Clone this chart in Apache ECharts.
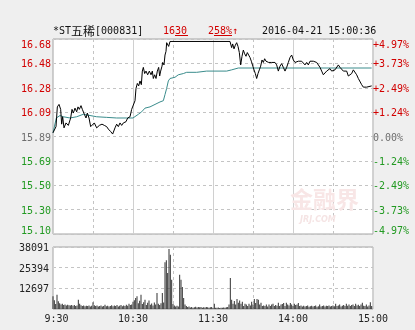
<!DOCTYPE html>
<html><head><meta charset="utf-8">
<script src="https://cdn.jsdelivr.net/npm/echarts@6/dist/echarts.min.js"></script>
<style>html,body{margin:0;padding:0;background:#efefef}#c{width:415px;height:330px}</style>
</head><body><div id="c"></div>
<script>
// ---- data ----
const priceMin = 15.10, priceMax = 16.68;
const priceTickLabels = ['16.68','16.48','16.28','16.09','15.89','15.69','15.50','15.30','15.10'];
const pctTickLabels = ['+4.97%','+3.73%','+2.49%','+1.24%','0.00%','-1.24%','-2.49%','-3.73%','-4.97%'];
const volTickLabels = ['', '12697', '25394', '38091'];
const volMax = 38091, volStep = 12697;
const timeLabels = ['9:30','','10:30','','11:30','','14:00','','15:00'];

const priceMinutes = [0,2.25,3.25,4.5,5.75,6.5,7.25,8.25,9.75,11.5,13.25,14.25,15.25,16.5,17.75,18.75,19.75,21,22,23.5,24.75,25.75,27,28.25,29.75,31,32.75,34.75,36.75,38.5,40.25,41.5,43.25,44.75,46.5,47.75,49,50.25,51.5,52.75,54.75,56,57.75,59,60.25,
61.5,62.25,63.25,64.25,65.25,66.25,67,67.75,68.75,69.75,71,72.25,73.5,74.5,75.25,76.25,77.25,78.25,79.25,80,80.75,81.75,82.25,83.25,84,84.75,85.25,86,86.75,87.75,96,96.5,97,120,132.75,
133.25,134,134.75,135.75,136.75,137.75,138.75,139.75,140.75,141.75,142.75,143.75,144.75,145.75,146.75,147.75,148.75,149.75,150.75,151.75,152.75,153.75,154.75,155.75,156.75,157.75,158.75,159.75,160.75,161.75,162.75,164,165.25,166.5,167.75,169,170.25,171.5,172.75,174,175.25,176.5,177.75,179,180.25,
181.5,182.75,184,185.25,186.5,187.75,189,190.25,191.5,192.75,194,195.25,196.5,197.75,199,200.25,201.5,202.75,204.25,205.25,206.5,207.75,209,210.25,211.5,212.75,214,215.25,216.5,217.75,219,220.25,221.5,222.75,224,225.25,226.5,227.75,229,230.25,231.5,232.75,234,235.25,239];
const priceValues = [15.92,15.97,16.13,16.15,16.11,15.99,16.05,15.96,16.00,15.98,16.04,16.11,16.08,16.12,16.09,16.13,16.11,16.14,16.11,16.07,16.04,16.08,16.04,15.97,15.96,16.00,15.96,15.98,15.99,15.98,15.97,15.95,15.93,15.91,15.96,15.99,15.97,16.00,15.98,16.00,16.01,16.04,16.05,16.11,16.12,
16.18,16.28,16.32,16.30,16.34,16.31,16.42,16.45,16.40,16.42,16.39,16.42,16.39,16.42,16.36,16.39,16.36,16.42,16.45,16.38,16.42,16.46,16.49,16.47,16.55,16.58,16.65,16.66,16.62,16.66,16.66,16.65,16.66,16.66,16.66,
16.65,16.61,16.64,16.60,16.63,16.65,16.62,16.57,16.47,16.54,16.59,16.56,16.54,16.57,16.55,16.53,16.50,16.51,16.43,16.40,16.36,16.40,16.43,16.46,16.51,16.49,16.52,16.50,16.50,16.49,16.50,16.49,16.50,16.49,16.47,16.42,16.46,16.48,16.45,16.42,16.45,16.49,16.53,16.55,16.51,
16.49,16.50,16.50,16.49,16.50,16.49,16.47,16.49,16.47,16.50,16.51,16.50,16.49,16.49,16.48,16.45,16.42,16.39,16.38,16.42,16.42,16.44,16.42,16.42,16.43,16.44,16.47,16.45,16.46,16.42,16.43,16.42,16.38,16.37,16.40,16.43,16.42,16.39,16.36,16.35,16.31,16.29,16.28,16.29,16.30];

const avgMinutes = [0,2.5,3.25,5.25,7.75,12.75,17.75,22.75,27.75,32.75,40.25,47.75,55.25,60,64,66.5,69,72.75,76.5,80.25,82.75,84,85.25,86.5,87.75,91.5,94,97.75,100.25,107.75,115.25,121.5,130.25,134,139,239];
const avgValues = [15.92,16.04,16.04,16.06,16.05,16.04,16.05,16.07,16.06,16.05,16.045,16.04,16.04,16.04,16.07,16.09,16.12,16.13,16.15,16.17,16.18,16.23,16.28,16.34,16.36,16.37,16.39,16.40,16.41,16.41,16.42,16.42,16.42,16.43,16.445,16.445];

const volumes = [
7800,5300,3000,8800,4700,3500,2700,3300,2500,2700,
2200,2600,2300,2100,2500,2000,2400,1900,2200,5700,
3200,2300,1800,2100,1700,2000,1800,2200,1600,2000,
4100,2300,1800,2100,1600,1900,2200,1500,1800,2600,
1700,2000,1500,1900,2300,1700,2100,1800,2400,1600,
2000,2500,1700,2200,1900,2600,2000,3200,2400,2800,
4500,5300,6750,7800,3500,5000,8800,3000,4200,5700,
2500,3800,5200,2600,3400,2200,4000,2800,9800,3200,
2500,3600,9800,4000,28650,29900,22100,36800,33400,18000,
3000,2200,1600,2000,1500,21100,18000,13500,6700,2800,
1800,1200,1500,900,1300,800,1100,1400,900,1200,
1000,1300,800,1100,900,1200,1000,800,1100,1300,
600,3300,800,700,900,600,800,700,900,800,
1000,1200,2700,19000,5700,3300,4900,2700,6100,3900,
5200,3300,4500,1800,3300,2700,1800,3300,2200,4500,
2700,6100,3700,6100,5700,2700,3900,1800,2200,1800,
2700,1600,2700,1800,2700,3300,1800,2400,2000,3900,
1800,2700,3000,3700,1800,3900,2700,2200,3700,2700,
1800,3300,2400,2700,3700,1800,2200,1600,2000,1500,
1800,2200,1400,1700,2000,1500,1800,2100,1400,1700,
2700,1500,1900,2200,1600,2000,1800,2100,1500,1900,
2200,1700,3300,1800,2200,2700,1600,2000,2500,1800,
3300,2000,2700,1800,2400,2700,1900,3300,2200,2600,
1900,2700,3900,2000,1800,2700,1500,2200,4100,1800];

// ---- styles ----
const RED = '#d20000', GREEN = '#229a22', GRAY = '#6e6e6e';
const FONT = '"DejaVu Sans Mono", "Liberation Mono", monospace';
const GRIDC = '#c4c4c4', SOLIDC = '#d0d0d0';

const priceData = priceMinutes.map((m, i) => [m, priceValues[i]]);
const avgData = avgMinutes.map((m, i) => [m, avgValues[i]]);
const volData = volumes.map((v, i) => [i, v]);

function stepRich(idx, txt) {
  const c = idx < 4 ? 'r' : (idx > 4 ? 'g' : 'z');
  const pos = idx === 0 ? 't' : (idx === 8 ? 'b' : 'n');
  return '{' + c + pos + '|' + txt + '}';
}
const rich = {};
[['r', RED], ['g', GREEN], ['z', GRAY]].forEach(([k, col]) => {
  rich[k + 't'] = {color: col, fontFamily: FONT, fontSize: 10, padding: [12, 0, 0, 0]};
  rich[k + 'b'] = {color: col, fontFamily: FONT, fontSize: 10, padding: [0, 0, 6, 0]};
  rich[k + 'n'] = {color: col, fontFamily: FONT, fontSize: 10, padding: [3, 0, 0, 0]};
});

const hideAxis = {axisLine: {show: false}, axisTick: {show: false}, axisLabel: {show: false}};

const option = {
  animation: false,
  backgroundColor: '#efefef',
  grid: [
    {left: 53, top: 39, width: 320, height: 195, show: true, backgroundColor: '#fff', borderColor: '#a4a4a4', borderWidth: 1},
    {left: 53, top: 247, width: 320, height: 62, show: true, backgroundColor: '#fff', borderColor: '#a4a4a4', borderWidth: 1}
  ],
  xAxis: [
    Object.assign({type: 'value', gridIndex: 0, min: 0, max: 240, interval: 30,
      splitLine: {show: true, lineStyle: {color: GRIDC, type: [3, 3]}}}, hideAxis),
    Object.assign({type: 'value', gridIndex: 0, min: 0, max: 240, interval: 60,
      splitLine: {show: true, lineStyle: {color: SOLIDC, type: 'solid'}}}, hideAxis),
    {type: 'value', gridIndex: 1, min: 0, max: 240, interval: 30,
      axisLine: {show: false}, axisTick: {show: false},
      splitLine: {show: true, lineStyle: {color: GRIDC, type: [3, 3]}},
      axisLabel: {margin: 5, color: '#222', fontFamily: FONT, fontSize: 10,
        formatter: v => { const t = timeLabels[Math.round(v / 30)] || ''; return t === '9:30' ? '{p|' + t + '}' : t; },
        rich: {p: {fontFamily: FONT, fontSize: 10, color: '#222', padding: [0, 0, 0, 7]}}}},
    Object.assign({type: 'value', gridIndex: 1, min: 0, max: 240, interval: 60,
      splitLine: {show: true, lineStyle: {color: SOLIDC, type: 'solid'}}}, hideAxis)
  ],
  yAxis: [
    Object.assign({type: 'value', gridIndex: 0, min: priceMin, max: priceMax, splitLine: {show: false}}, hideAxis),
    {type: 'value', gridIndex: 0, position: 'left', min: -4, max: 4, interval: 1,
      axisLine: {show: false}, axisTick: {show: false},
      splitLine: {show: true, lineStyle: {color: GRIDC, type: [3, 3]}},
      axisLabel: {margin: 2, formatter: v => { const i = 4 - Math.round(v); return stepRich(i, priceTickLabels[i]); }, rich: rich}},
    {type: 'value', gridIndex: 0, position: 'right', min: -4, max: 4, interval: 1,
      axisLine: {show: false}, axisTick: {show: false}, splitLine: {show: false},
      axisLabel: {margin: 0, formatter: v => { const i = 4 - Math.round(v); return stepRich(i, pctTickLabels[i]); }, rich: rich}},
    {type: 'value', gridIndex: 1, min: 0, max: volMax, interval: volStep,
      axisLine: {show: false}, axisTick: {show: false},
      splitLine: {show: true, lineStyle: {color: GRIDC, type: [3, 3]}},
      axisLabel: {margin: 4, formatter: v => { const t = volTickLabels[Math.round(v / volStep)] || ''; return t ? '{v|' + t + '}' : ''; },
        rich: {v: {fontFamily: FONT, fontSize: 10, color: '#222', padding: [3, 0, 0, 0]}}}}
  ],
  series: [
    {type: 'line', xAxisIndex: 0, yAxisIndex: 0, data: avgData, symbol: 'none',
      lineStyle: {color: '#3a8c8c', width: 1}, z: 3},
    {type: 'line', xAxisIndex: 0, yAxisIndex: 0, data: priceData, symbol: 'none',
      lineStyle: {color: '#000', width: 1}, z: 4},
    {type: 'bar', xAxisIndex: 2, yAxisIndex: 3, data: volData, barWidth: 1,
      itemStyle: {color: '#333'}, z: 3}
  ],
  graphic: [
    {type: 'text', left: 290, top: 188, z: 1, style: {text: '金融界', fontFamily: '"Noto Sans CJK SC"', fontWeight: 'bold', fontSize: 23, fill: '#f8e6e6'}},
    {type: 'text', left: 300, top: 216, z: 1, style: {text: 'JRJ.COM', fontFamily: 'DejaVu Sans', fontStyle: 'italic', fontWeight: 'bold', fontSize: 8, fill: '#f5e4e4'}},
    {type: 'text', x: 53, y: 31, style: {text: '{a|*ST}{c|五稀}{a|[000831]}', textVerticalAlign: 'middle',
      rich: {a: {fontFamily: FONT, fontSize: 10, fill: '#111'}, c: {fontFamily: '"Noto Sans CJK SC"', fontSize: 12, fill: '#111'}}}},
    {type: 'text', x: 163, y: 31, style: {text: '1630', fontFamily: FONT, fontSize: 10, fill: RED, textVerticalAlign: 'middle'}},
    {type: 'line', shape: {x1: 175, y1: 35.5, x2: 188, y2: 35.5}, style: {stroke: RED, lineWidth: 1}},
    {type: 'text', x: 208, y: 31, style: {text: '258%↑', fontFamily: FONT, fontSize: 10, fill: RED, textVerticalAlign: 'middle'}},
    {type: 'line', shape: {x1: 214, y1: 35.5, x2: 232, y2: 35.5}, style: {stroke: RED, lineWidth: 1}},
    {type: 'text', x: 262, y: 31, style: {text: '2016-04-21 15:00:36', fontFamily: FONT, fontSize: 10, fill: '#111', textVerticalAlign: 'middle'}}
  ]
};
const chart = echarts.init(document.getElementById('c'), null, {renderer: 'canvas'});
chart.setOption(option);
</script></body></html>
